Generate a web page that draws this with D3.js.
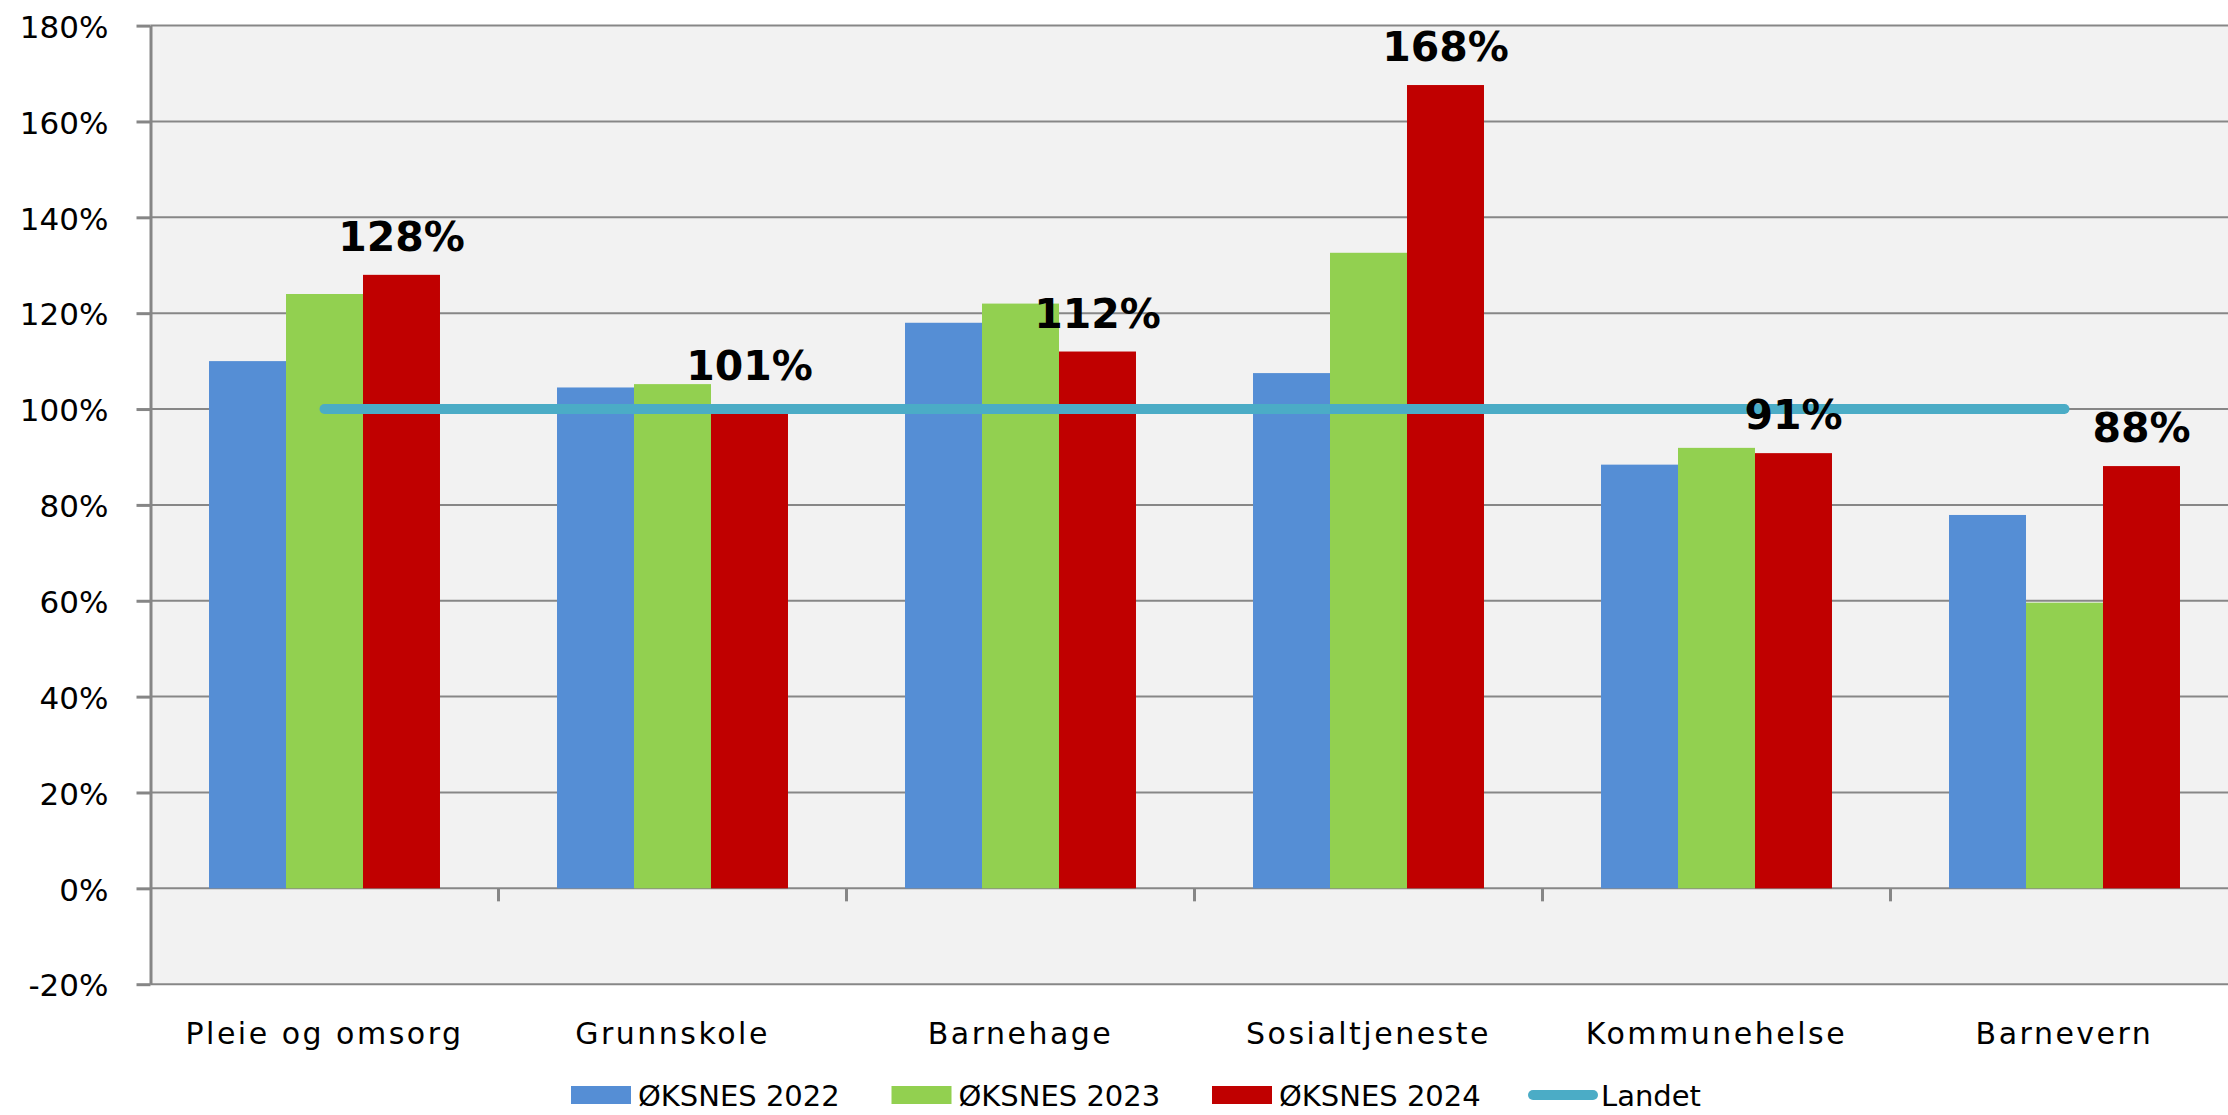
<!DOCTYPE html>
<meta charset="utf-8">
<style>

body {
  margin: 0;
  background: #fff;
}

text {
  font-family: "DejaVu Sans", Verdana, sans-serif;
  fill: #000;
}

.grid line {
  stroke: #878787;
  stroke-width: 2px;
}

.axis--y path,
.axis--y line {
  stroke: #868686;
  stroke-width: 3px;
}

.axis--y text {
  font-size: 31px;
}

.cat-tick {
  stroke: #868686;
  stroke-width: 3px;
}

.cat-label {
  font-size: 30px;
  letter-spacing: 2.5px;
}

.value-label {
  font-size: 41px;
  font-weight: bold;
}

.landet {
  fill: none;
  stroke: #4BACC6;
  stroke-width: 10px;
  stroke-linecap: round;
}

.legend text {
  font-size: 29px;
}

</style>
<svg width="2228" height="1115"></svg>
<script src="https://cdn.jsdelivr.net/npm/d3@7/dist/d3.min.js"></script>
<script>

// data
var categories = ["Pleie og omsorg", "Grunnskole", "Barnehage", "Sosialtjeneste", "Kommunehelse", "Barnevern"];
var seriesNames = ["ØKSNES 2022", "ØKSNES 2023", "ØKSNES 2024"];
var oksnes2022 = [1.10, 1.045, 1.18, 1.075, 0.884, 0.779];
var oksnes2023 = [1.24, 1.052, 1.22, 1.326, 0.919, 0.596];
var oksnes2024 = [1.28, 1.01, 1.12, 1.676, 0.908, 0.881];
var landet = [1, 1, 1, 1, 1, 1];
var yTicks = [-0.2, 0, 0.2, 0.4, 0.6, 0.8, 1.0, 1.2, 1.4, 1.6, 1.8];

var colors = ["#558ED5", "#92D050", "#C00000"];
var landetName = "Landet";

var svg = d3.select("svg"),
    plotLeft = 150.5,
    plotRight = plotLeft + 6 * 348,
    plotTop = 25.6,
    plotBottom = 984.2;

var x = d3.scaleBand().domain(categories).range([plotLeft, plotRight]),
    x1 = d3.scaleBand().domain(seriesNames).range([0, x.bandwidth()]).paddingOuter(0.76),
    y = d3.scaleLinear().domain([-0.2, 1.8]).range([plotBottom, plotTop]);

var series = [oksnes2022, oksnes2023, oksnes2024].map(function(vals, i) {
  return {
    name: seriesNames[i],
    color: colors[i],
    values: vals.map(function(v, j) { return {cat: categories[j], value: v}; })
  };
});

// plain hyphen for negatives, like the original
var pct = d3.formatLocale({decimal: ".", thousands: ",", grouping: [3], currency: ["", ""], minus: "-"}).format(".0%");

// plot area
svg.append("rect")
    .attr("x", plotLeft)
    .attr("y", plotTop)
    .attr("width", plotRight - plotLeft)
    .attr("height", plotBottom - plotTop)
    .attr("fill", "#F2F2F2");

svg.append("g")
    .attr("class", "grid")
  .selectAll("line")
  .data(yTicks)
  .enter().append("line")
    .attr("x1", plotLeft)
    .attr("x2", plotRight)
    .attr("y1", function(d) { return y(d); })
    .attr("y2", function(d) { return y(d); });

// bars
var group = svg.selectAll(".series")
  .data(series)
  .enter().append("g")
    .attr("class", "series")
    .attr("fill", function(d) { return d.color; });

group.selectAll("rect")
  .data(function(d) { return d.values.map(function(v) { return {name: d.name, cat: v.cat, value: v.value}; }); })
  .enter().append("rect")
    .attr("x", function(d) { return x(d.cat) + x1(d.name); })
    .attr("y", function(d) { return y(d.value); })
    .attr("width", x1.bandwidth())
    .attr("height", function(d) { return y(0) - y(d.value); });

// category ticks on the 0% line
svg.append("g")
  .selectAll("line")
  .data(categories.slice(1))
  .enter().append("line")
    .attr("class", "cat-tick")
    .attr("x1", function(d) { return x(d); })
    .attr("x2", function(d) { return x(d); })
    .attr("y1", y(0))
    .attr("y2", y(0) + 13);

svg.append("g")
  .selectAll("text")
  .data(categories)
  .enter().append("text")
    .attr("class", "cat-label")
    .attr("x", function(d) { return x(d) + x.bandwidth() / 2; })
    .attr("y", 1044)
    .attr("text-anchor", "middle")
    .text(function(d) { return d; });

// landet line
var line = d3.line()
    .x(function(d, i) { return x(categories[i]) + x.bandwidth() / 2; })
    .y(function(d) { return y(d); });

svg.append("path")
    .datum(landet)
    .attr("class", "landet")
    .attr("d", line);

// y axis
svg.append("g")
    .attr("class", "axis axis--y")
    .attr("transform", "translate(" + plotLeft + ",0)")
    .call(d3.axisLeft(y).tickValues(yTicks).tickSize(14).tickSizeOuter(0).tickPadding(28).tickFormat(pct))
    .call(function(g) { g.selectAll("text").attr("dy", "0.38em").attr("fill", "#000"); });

// value labels on 2024
svg.append("g")
  .selectAll("text")
  .data(series[2].values)
  .enter().append("text")
    .attr("class", "value-label")
    .attr("x", function(d) { return x(d.cat) + x1(seriesNames[2]) + x1.bandwidth() / 2; })
    .attr("y", function(d) { return y(d.value) - 24; })
    .attr("text-anchor", "middle")
    .text(function(d) { return pct(d.value); });

// legend
var legend = svg.append("g").attr("class", "legend");

var item = legend.selectAll(".item")
  .data(series)
  .enter().append("g")
    .attr("class", "item")
    .attr("transform", function(d, i) { return "translate(" + (571 + i * 320.5) + ",0)"; });

item.append("rect")
    .attr("y", 1086)
    .attr("width", 60)
    .attr("height", 18)
    .attr("fill", function(d) { return d.color; });

item.append("text")
    .attr("x", 67)
    .attr("y", 1106)
    .text(function(d) { return d.name; });

var landetItem = legend.append("g")
    .attr("transform", "translate(1528,0)");

landetItem.append("line")
    .attr("class", "landet")
    .attr("x1", 5)
    .attr("x2", 65)
    .attr("y1", 1095)
    .attr("y2", 1095);

landetItem.append("text")
    .attr("x", 73)
    .attr("y", 1106)
    .text(landetName);

</script>
